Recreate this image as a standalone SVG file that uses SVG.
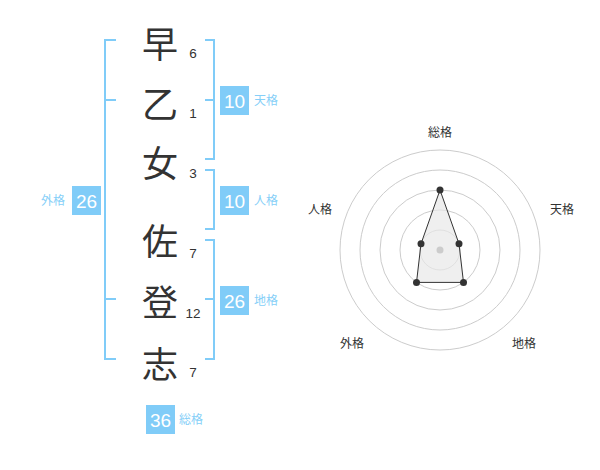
<svg xmlns="http://www.w3.org/2000/svg" width="600" height="470" viewBox="0 0 600 470">
<style>
.ch{font-family:"Noto Sans CJK JP","Noto Sans CJK SC",sans-serif;font-size:36px;fill:#333;text-anchor:middle;dominant-baseline:central}
.num{font-family:"Liberation Sans",Arial,sans-serif;font-size:13.5px;fill:#333;text-anchor:middle}
.box{fill:#80ccf8}
.bt{font-family:"Liberation Sans",Arial,sans-serif;font-size:19px;fill:#fff;text-anchor:middle}
.lb{font-family:"Noto Sans CJK JP","Noto Sans CJK SC",sans-serif;font-size:12px;fill:#86cff8}
.br{fill:none;stroke:#80ccf8;stroke-width:2}
.ring{fill:none;stroke:#ccc;stroke-width:1}
.rl{font-family:"Noto Sans CJK JP","Noto Sans CJK SC",sans-serif;font-size:12px;fill:#333;text-anchor:middle;dominant-baseline:central}
.dot{fill:#333}
</style>
<rect width="600" height="470" fill="#fff"/>
<g id="connectors">
<path class="br" d="M116,40 H105 V359 H116 M105,100 H116 M105,299 H116"/>
<path class="br" d="M205,40 H214 V159 H205 M205,100 H214"/>
<path class="br" d="M205,170 H214 V229 H205"/>
<path class="br" d="M205,240 H214 V359 H205 M205,299 H214"/>
</g>
<g id="name">
<text class="ch" x="160" y="42">早</text>
<text class="ch" x="160" y="102">乙</text>
<text class="ch" x="160" y="161">女</text>
<text class="ch" x="160" y="239">佐</text>
<text class="ch" x="160" y="300">登</text>
<text class="ch" x="160" y="362">志</text>
</g>
<g id="strokes">
<text class="num" x="193" y="58">6</text>
<text class="num" x="193" y="118">1</text>
<text class="num" x="193" y="178">3</text>
<text class="num" x="193" y="258">7</text>
<text class="num" x="193" y="318">12</text>
<text class="num" x="193" y="377">7</text>
</g>
<g id="tenkaku">
<rect class="box" x="220" y="86" width="29" height="29"/>
<text class="bt" x="234.5" y="107.5">10</text>
<text class="lb" x="254" y="105">天格</text>
</g>
<g id="jinkaku">
<rect class="box" x="220" y="186" width="29" height="29"/>
<text class="bt" x="234.5" y="207.5">10</text>
<text class="lb" x="254" y="205">人格</text>
</g>
<g id="chikaku">
<rect class="box" x="220" y="286" width="29" height="29"/>
<text class="bt" x="234.5" y="307.5">26</text>
<text class="lb" x="254" y="305">地格</text>
</g>
<g id="gaikaku">
<rect class="box" x="72" y="186" width="29" height="29"/>
<text class="bt" x="86.5" y="207.5">26</text>
<text class="lb" x="65" y="205" text-anchor="end">外格</text>
</g>
<g id="soukaku">
<rect class="box" x="146" y="405" width="29" height="29"/>
<text class="bt" x="160.5" y="426.5">36</text>
<text class="lb" x="179" y="424">総格</text>
</g>
<g id="radar">
<circle class="ring" cx="440" cy="250" r="100"/>
<circle class="ring" cx="440" cy="250" r="80"/>
<circle class="ring" cx="440" cy="250" r="60"/>
<circle class="ring" cx="440" cy="250" r="40"/>
<circle class="ring" cx="440" cy="250" r="20"/>
<polygon points="440,190 459,243.8 463.5,282.4 416.5,282.4 421,243.8" fill="#e8e8e8" fill-opacity="0.7" stroke="#333" stroke-width="1"/>
<circle cx="440" cy="250" r="3.5" fill="#ccc"/>
<circle class="dot" cx="440" cy="190" r="3.5"/>
<circle class="dot" cx="459" cy="243.8" r="3.5"/>
<circle class="dot" cx="463.5" cy="282.4" r="3.5"/>
<circle class="dot" cx="416.5" cy="282.4" r="3.5"/>
<circle class="dot" cx="421" cy="243.8" r="3.5"/>
<text class="rl" x="440" y="131">総格</text>
<text class="rl" x="562" y="208">天格</text>
<text class="rl" x="320" y="208">人格</text>
<text class="rl" x="352" y="342">外格</text>
<text class="rl" x="524" y="342">地格</text>
</g>
</svg>
